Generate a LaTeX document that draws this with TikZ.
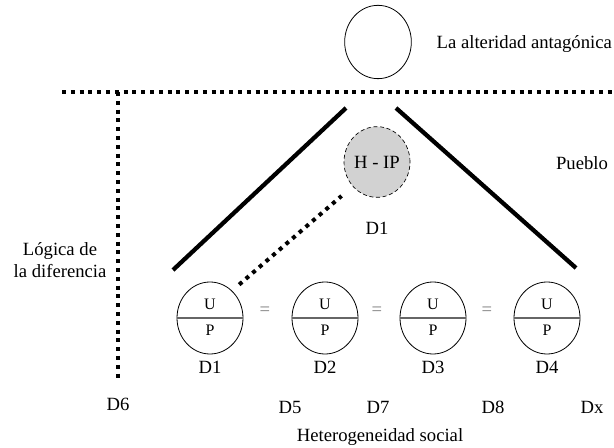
\documentclass[tikz,border=0pt]{standalone}
\usepackage{fontspec}
\setmainfont{Liberation Serif}
\usetikzlibrary{shapes.geometric, positioning}

\begin{document}
\begin{tikzpicture}[x=0.75pt, y=-0.75pt, font=\fontsize{14}{17}\selectfont,
    bigdots/.style={line width=3pt, dash pattern=on 3pt off 3.6pt},
    thickline/.style={line width=3.2pt},
    disc/.style={ellipse, draw, line width=0.6pt, inner sep=0pt, minimum width=49.5pt, minimum height=54pt},
    smalltext/.style={font=\fontsize{12}{14}\selectfont}]
    \useasboundingbox (0,0) rectangle (614,448);

    % la alteridad
    \node[disc, minimum width=50pt, minimum height=55pt] (alt) at (378,42) {};
    \node[anchor=west] (altlabel) at (432,44) {La alteridad antag\'onica};

    % frontera y logica de la diferencia
    \coordinate (hl) at (62,92);
    \coordinate (hr) at (614,92);
    \coordinate (vt) at (118,92);
    \coordinate (vb) at (118,382);
    \draw[bigdots] (hl) -- (hr);
    \draw[bigdots] (vt) -- (vb);
    \node[align=center] (logica) at (60,260) {L\'ogica de\\la diferencia};
    \node (d6) at (118,404) {D6};

    % pueblo
    \coordinate (pl1) at (173,270);
    \coordinate (pl2) at (346,108);
    \coordinate (pr1) at (396,108);
    \coordinate (pr2) at (576,268);
    \draw[thickline] (pl1) -- (pl2);
    \draw[thickline] (pr1) -- (pr2);
    \node (pueblo) at (582,163) {Pueblo};

    % hegemonia
    \node[ellipse, draw, densely dashed, line width=0.5pt, fill=gray!35, inner sep=0pt,
          minimum width=49.5pt, minimum height=53pt] (hip) at (377,162) {H - IP};
    \node (hipd) at (377,228) {D1};

    % demandas
    \foreach \i/\x in {1/210, 2/325, 3/433, 4/547} {
        \node[disc] (u\i) at (\x,318) {};
        \draw[gray!80!black, line width=0.9pt] (u\i.west) -- (u\i.east);
        \node[smalltext] at (\x,304) {U};
        \node[smalltext] at (\x,330) {P};
        \node (d\i) at (\x,367) {D\i};
    }
    \foreach \x in {265, 377, 487}
        \node[gray] at (\x,311) {=};
    \draw[bigdots, shorten <=7pt, shorten >=11pt] (u1.51) -- (hip.225);

    \node (d5) at (290,407) {D5};
    \node (d7) at (378,407) {D7};
    \node (d8) at (493,407) {D8};
    \node (dx) at (592,407) {Dx};
    \node (hetero) at (380,437) {Heterogeneidad social};
\end{tikzpicture}
\end{document}
